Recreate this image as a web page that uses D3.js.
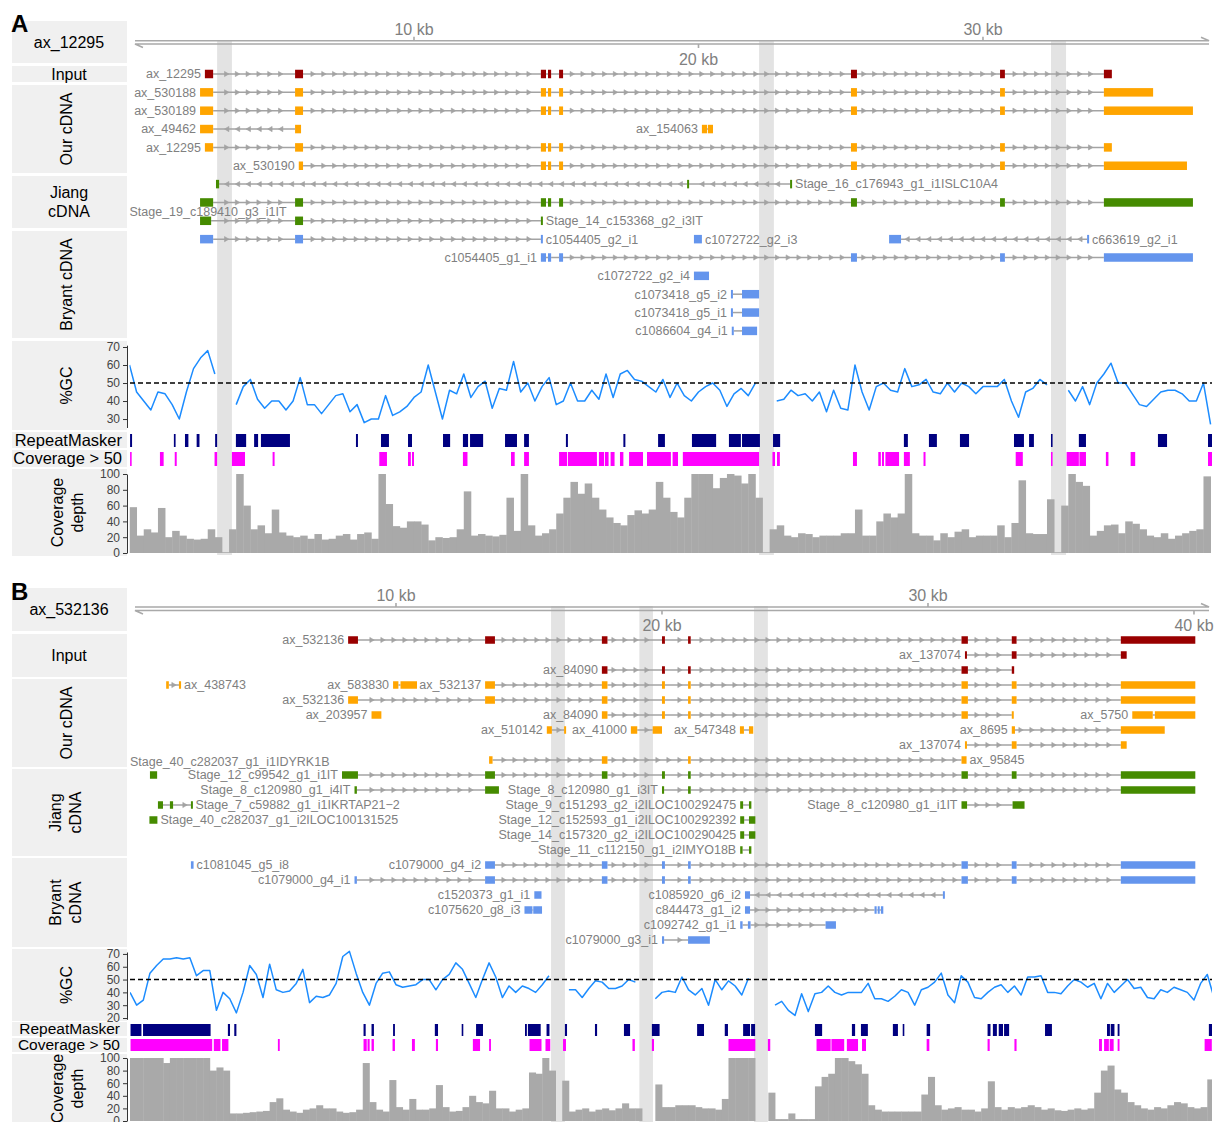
<!DOCTYPE html>
<html>
<head>
<meta charset="utf-8">
<script src="https://cdn.jsdelivr.net/npm/d3@7"></script>
<style>
  body { margin: 0; background: #fff; }
  svg { display: block; font-family: "Liberation Sans", Arial, Helvetica, sans-serif; }
</style>
</head>
<body>
<svg id="fig" width="1214" height="1122"></svg>
<script>
// ---------------- Panel A data (genome positions in kb) ----------------
var ticksA = [10, 20, 30];
var bandsA = [[3.08, 3.60], [22.13, 22.65], [32.39, 32.92]];

var txA = [
  {set: 'input', row: 0, name: 'ax_12295', str: 1, lab: 'left', ex: [[2.65,2.94],[5.82,6.10],[14.46,14.64],[14.71,14.82],[15.10,15.24],[25.36,25.57],[30.60,30.77],[34.25,34.53]]},
  {set: 'our', row: 1, name: 'ax_530188', str: 1, lab: 'left', ex: [[2.48,2.94],[5.82,6.10],[14.46,14.64],[14.71,14.82],[15.10,15.24],[25.36,25.57],[30.60,30.77],[34.25,35.98]]},
  {set: 'our', row: 2, name: 'ax_530189', str: 1, lab: 'left', ex: [[2.48,2.94],[5.82,6.10],[14.46,14.64],[14.71,14.82],[15.10,15.24],[25.36,25.57],[30.60,30.77],[34.25,37.38]]},
  {set: 'our', row: 3, name: 'ax_49462', str: -1, lab: 'left', ex: [[2.48,2.94],[5.82,6.03]]},
  {set: 'our', row: 3, name: 'ax_154063', str: 1, lab: 'left', ex: [[20.12,20.30],[20.33,20.51]]},
  {set: 'our', row: 4, name: 'ax_12295', str: 1, lab: 'left', ex: [[2.65,2.94],[5.82,6.10],[14.46,14.64],[14.71,14.82],[15.10,15.24],[25.36,25.57],[30.60,30.77],[34.25,34.53]]},
  {set: 'our', row: 5, name: 'ax_530190', str: 1, lab: 'left', ex: [[5.95,6.10],[14.46,14.64],[14.71,14.82],[15.10,15.24],[25.36,25.57],[30.60,30.77],[34.25,37.17]]},
  {set: 'jiang', row: 6, name: 'Stage_16_c176943_g1_i1ISLC10A4', str: -1, lab: 'right', ex: [[3.04,3.15],[19.60,19.67],[23.22,23.29]]},
  {set: 'jiang', row: 7, name: 'Stage_19_c189410_g3_i1IT', str: 1, lab: 'under', ex: [[2.48,2.94],[5.82,6.10],[14.46,14.64],[14.71,14.82],[15.10,15.24],[25.36,25.57],[30.60,30.77],[34.25,37.38]]},
  {set: 'jiang', row: 8, name: 'Stage_14_c153368_g2_i3IT', str: 1, lab: 'right', ex: [[2.48,2.87],[5.82,6.10],[14.46,14.53]]},
  {set: 'bryant', row: 9, name: 'c1054405_g2_i1', str: 1, lab: 'right', ex: [[2.48,2.94],[5.82,6.10],[14.46,14.53]]},
  {set: 'bryant', row: 9, name: 'c1072722_g2_i3', str: 1, lab: 'right', ex: [[19.84,20.12]]},
  {set: 'bryant', row: 9, name: 'c663619_g2_i1', str: -1, lab: 'right', ex: [[26.70,27.12],[33.66,33.73]]},
  {set: 'bryant', row: 10, name: 'c1054405_g1_i1', str: 1, lab: 'left', ex: [[14.46,14.64],[14.71,14.82],[15.10,15.24],[25.36,25.57],[30.60,30.77],[34.25,37.38]]},
  {set: 'bryant', row: 11, name: 'c1072722_g2_i4', str: 1, lab: 'left', ex: [[19.84,20.37]]},
  {set: 'bryant', row: 12, name: 'c1073418_g5_i2', str: 1, lab: 'left', ex: [[21.14,21.21],[21.53,22.13]]},
  {set: 'bryant', row: 13, name: 'c1073418_g5_i1', str: 1, lab: 'left', ex: [[21.14,21.21],[21.53,22.13]]},
  {set: 'bryant', row: 14, name: 'c1086604_g4_i1', str: -1, lab: 'left', ex: [[21.17,21.24],[21.53,22.06]]}
];

// %GC in 250 bp windows starting at 0 kb (null = assembly gap)
var gcA = [
  60, 45, 40, 35, 45, 44, 38, 30, 45, 58,
  64, 68, 55, null, null, 38, 48, 52, 41, 36,
  40, 40, 35, 40, 53, 38, 38, 33, 38, 43,
  44, 34, 38, 28, 30, 30, 43, 32, 34, 37,
  42, 45, 60, 45, 30, 46, 44, 55, 42, 48,
  51, 36, 47, 46, 62, 45, 50, 40, 48, 53,
  38, 40, 50, 40, 40, 46, 41, 55, 42, 55,
  57, 52, 51, 48, 45, 52, 42, 50, 43, 40,
  45, 48, 50, 46, 37, 44, 47, 43, 50, null,
  null, 40, 41, 46, 43, 44, 40, 45, 34, 46,
  36, 35, 60, 45, 35, 48, 50, 46, 45, 58,
  48, 49, 52, 45, 44, 50, 45, 50, 48, 44,
  48, 48, 48, 52, 40, 31, 45, 47, 52, 49,
  null, null, 46, 40, 48, 38, 50, 55, 61, 50,
  50, 44, 38, 37, 41, 45, 46, 46, 44, 40,
  40, 50, 27
];

// coverage depth in 250 bp bins starting at 0 kb
var covA = [
  58, 22, 30, 26, 57, 20, 28, 22, 18, 17,
  18, 30, 20, 1, 30, 100, 60, 30, 35, 25,
  55, 26, 22, 20, 22, 18, 24, 17, 18, 22,
  24, 17, 24, 26, 18, 100, 62, 34, 32, 40,
  40, 36, 16, 20, 19, 20, 30, 78, 22, 24,
  22, 21, 23, 70, 28, 100, 35, 22, 25, 30,
  50, 70, 90, 75, 88, 70, 55, 45, 38, 35,
  48, 54, 50, 55, 90, 70, 52, 45, 70, 100,
  100, 100, 82, 95, 100, 98, 88, 100, 70, 1,
  30, 35, 22, 20, 25, 24, 20, 22, 22, 22,
  25, 25, 55, 22, 22, 40, 50, 45, 50, 100,
  25, 22, 22, 16, 25, 20, 27, 30, 20, 22,
  22, 22, 35, 20, 38, 92, 25, 24, 24, 68,
  1, 60, 100, 90, 85, 22, 28, 35, 36, 25,
  40, 37, 30, 22, 20, 25, 18, 22, 25, 28,
  30, 97
];

var repA = [[0.02,0.09],[1.56,1.62],[1.95,2.07],[2.36,2.46],[3.01,3.08],[3.74,4.10],[4.38,4.52],[4.62,5.64],
  [7.96,8.03],[8.84,9.12],[9.79,9.93],[11.02,11.27],[11.72,11.90],[11.97,12.43],[13.20,13.62],[13.87,14.04],
  [15.34,15.41],[17.36,17.43],[18.58,18.82],[19.77,20.62],[21.07,21.49],[21.53,22.16],[22.62,22.87],
  [27.22,27.36],[28.10,28.38],[29.19,29.51],[31.09,31.44],[31.62,31.79],[32.39,32.43],[33.37,33.62],
  [36.15,36.47],[37.91,38.05]];

var c50A = [[0.02,0.07],[1.07,1.20],[1.59,1.66],[2.99,3.08],[3.60,4.06],[5.03,5.10],[8.78,9.05],[9.79,9.89],
  [9.93,10.00],[11.72,11.88],[13.41,13.54],[13.87,14.04],[15.10,15.38],[15.41,16.43],[16.50,16.68],
  [16.71,16.84],[16.91,17.05],[17.24,17.36],[17.56,18.05],[18.19,19.03],[19.09,19.28],[19.45,22.13],
  [22.60,22.69],[22.76,22.86],[25.43,25.57],[26.32,26.41],[26.45,26.52],[26.57,27.05],[27.22,27.43],
  [27.91,27.98],[31.15,31.40],[32.39,32.43],[32.94,33.37],[33.39,33.62],[34.32,34.41],[35.19,35.35],
  [37.91,38.05]];

// ---------------- Panel B data ----------------
var ticksB = [10, 20, 30, 40];
var bandsB = [[15.83, 16.35], [19.15, 19.66], [23.46, 23.98]];

var txB = [
  {set: 'input', row: 0, name: 'ax_532136', str: 1, lab: 'left', ex: [[8.20,8.57],[13.35,13.72],[17.74,17.95],[20.00,20.11],[20.98,21.08],[31.26,31.50],[33.15,33.33],[37.25,40.05]]},
  {set: 'input', row: 1, name: 'ax_137074', str: 1, lab: 'left', ex: [[31.39,31.46],[33.15,33.33],[37.25,37.47]]},
  {set: 'input', row: 2, name: 'ax_84090', str: 1, lab: 'left', ex: [[17.74,17.95],[20.00,20.11],[20.98,21.08],[31.26,31.50],[33.15,33.24]]},
  {set: 'our', row: 3, name: 'ax_438743', str: 1, lab: 'right', ex: [[1.36,1.46],[1.84,1.92]]},
  {set: 'our', row: 3, name: 'ax_583830', str: 1, lab: 'left', ex: [[9.89,10.09],[10.17,10.79]]},
  {set: 'our', row: 3, name: 'ax_532137', str: 1, lab: 'left', ex: [[13.35,13.72],[17.74,17.95],[20.00,20.11],[20.98,21.08],[31.26,31.50],[33.15,33.33],[37.25,40.05]]},
  {set: 'our', row: 4, name: 'ax_532136', str: 1, lab: 'left', ex: [[8.20,8.57],[13.35,13.72],[17.74,17.95],[20.00,20.11],[20.98,21.08],[31.26,31.50],[33.15,33.33],[37.25,40.05]]},
  {set: 'our', row: 5, name: 'ax_203957', str: 1, lab: 'left', ex: [[9.08,9.45]]},
  {set: 'our', row: 5, name: 'ax_84090', str: 1, lab: 'left', ex: [[17.74,17.95],[20.00,20.11],[20.98,21.08],[31.26,31.50],[33.15,33.22]]},
  {set: 'our', row: 5, name: 'ax_5750', str: 1, lab: 'left', ex: [[37.68,38.45],[38.53,40.05]]},
  {set: 'our', row: 6, name: 'ax_510142', str: 1, lab: 'left', ex: [[15.67,15.86],[16.32,16.39]]},
  {set: 'our', row: 6, name: 'ax_41000', str: 1, lab: 'left', ex: [[18.83,19.07],[19.65,20.00]]},
  {set: 'our', row: 6, name: 'ax_547348', str: 1, lab: 'left', ex: [[22.93,23.08],[23.27,23.43]]},
  {set: 'our', row: 6, name: 'ax_8695', str: 1, lab: 'left', ex: [[33.15,33.27],[37.25,38.90]]},
  {set: 'our', row: 7, name: 'ax_137074', str: 1, lab: 'left', ex: [[31.39,31.46],[33.15,33.33],[37.25,37.47]]},
  {set: 'our', row: 8, name: 'ax_95845', str: 1, lab: 'right', ex: [[13.50,13.63],[17.74,17.95],[20.98,21.08],[31.26,31.45]]},
  {set: 'jiang', row: 9, name: 'Stage_40_c282037_g1_i1IDYRK1B', str: 1, lab: 'over', ex: [[0.75,1.02]]},
  {set: 'jiang', row: 9, name: 'Stage_12_c99542_g1_i1IT', str: 1, lab: 'left', ex: [[7.97,8.57],[13.35,13.72],[17.74,17.95],[20.00,20.11],[20.98,21.08],[31.26,31.50],[33.15,33.33],[37.25,40.05]]},
  {set: 'jiang', row: 10, name: 'Stage_8_c120980_g1_i4IT', str: 1, lab: 'left', ex: [[8.44,8.53],[13.35,13.87]]},
  {set: 'jiang', row: 10, name: 'Stage_8_c120980_g1_i3IT', str: 1, lab: 'left', ex: [[20.00,20.08],[20.98,21.08],[37.25,40.05]]},
  {set: 'jiang', row: 11, name: 'Stage_7_c59882_g1_i1IKRTAP21\u22122', str: 1, lab: 'right', ex: [[1.05,1.24],[1.50,1.62],[2.29,2.35]]},
  {set: 'jiang', row: 11, name: 'Stage_9_c151293_g2_i2ILOC100292475', str: 1, lab: 'left', ex: [[22.94,23.05],[23.27,23.36]]},
  {set: 'jiang', row: 11, name: 'Stage_8_c120980_g1_i1IT', str: 1, lab: 'left', ex: [[31.26,31.47],[33.18,33.63]]},
  {set: 'jiang', row: 12, name: 'Stage_40_c282037_g1_i2ILOC100131525', str: 1, lab: 'right', ex: [[0.73,1.03]]},
  {set: 'jiang', row: 12, name: 'Stage_12_c152593_g1_i2ILOC100292392', str: 1, lab: 'left', ex: [[22.94,23.09],[23.27,23.51]]},
  {set: 'jiang', row: 13, name: 'Stage_14_c157320_g2_i2ILOC100290425', str: 1, lab: 'left', ex: [[22.94,23.09],[23.27,23.51]]},
  {set: 'jiang', row: 14, name: 'Stage_11_c112150_g1_i2IMYO18B', str: 1, lab: 'left', ex: [[22.94,23.03],[23.27,23.36]]},
  {set: 'bryant', row: 15, name: 'c1081045_g5_i8', str: 1, lab: 'right', ex: [[2.29,2.39]]},
  {set: 'bryant', row: 15, name: 'c1079000_g4_i2', str: 1, lab: 'left', ex: [[13.35,13.72],[17.74,17.95],[20.00,20.11],[20.98,21.08],[31.26,31.50],[33.15,33.33],[37.25,40.05]]},
  {set: 'bryant', row: 16, name: 'c1079000_g4_i1', str: 1, lab: 'left', ex: [[8.44,8.53],[13.35,13.72],[17.74,17.95],[20.00,20.11],[20.98,21.08],[31.26,31.50],[33.15,33.33],[37.25,40.05]]},
  {set: 'bryant', row: 17, name: 'c1520373_g1_i1', str: 1, lab: 'left', ex: [[15.20,15.47]]},
  {set: 'bryant', row: 17, name: 'c1085920_g6_i2', str: -1, lab: 'left', ex: [[23.12,23.31],[30.56,30.63]]},
  {set: 'bryant', row: 18, name: 'c1075620_g8_i3', str: 1, lab: 'left', ex: [[14.83,15.13],[15.16,15.49]]},
  {set: 'bryant', row: 18, name: 'c844473_g1_i2', str: 1, lab: 'left', ex: [[23.12,23.31],[27.99,28.07],[28.11,28.17],[28.23,28.32]]},
  {set: 'bryant', row: 19, name: 'c1092742_g1_i1', str: 1, lab: 'left', ex: [[22.94,23.03],[23.23,23.33],[26.15,26.54]]},
  {set: 'bryant', row: 20, name: 'c1079000_g3_i1', str: 1, lab: 'left', ex: [[20.00,20.08],[20.98,21.80]]}
];

var gcB = [
  40, 30, 34, 55, 61, 66, 66, 67, 66, 67,
  53, 57, 57, 26, 40, 35, 24, 40, 61, 54,
  36, 62, 42, 40, 41, 47, 58, 32, 37, 36,
  38, 47, 68, 72, 55, 40, 30, 47, 55, 56,
  46, 44, 45, 46, 50, 50, 42, 50, 54, 63,
  58, 47, 36, 50, 63, 52, 36, 45, 40, 45,
  43, 40, 46, 53, null, null, 42, 42, 36, 43,
  49, 48, 43, 43, 45, 50, 48, null, null, 35,
  40, 41, 40, 52, 42, 38, 43, 30, 50, 42,
  49, 45, 38, 51, null, null, null, 30, 33, 26,
  22, 39, 25, 39, 40, 45, 40, 38, 40, 40,
  40, 47, 35, 35, 33, 37, 42, 40, 30, 42,
  44, 48, 55, 38, 32, 53, 48, 36, 35, 40,
  44, 46, 40, 45, 38, 52, 52, 53, 40, 40,
  39, 45, 50, 48, 44, 47, 35, 47, 40, 45,
  50, 43, 44, 36, 35, 42, 40, 44, 42, 40,
  34, 47, 54, 36
];

var covB = [
  100, 100, 100, 100, 100, 92, 100, 100, 100, 100,
  100, 100, 80, 85, 80, 12, 12, 13, 14, 15,
  16, 30, 36, 18, 15, 13, 18, 20, 25, 20,
  20, 15, 13, 14, 18, 92, 30, 18, 15, 65,
  22, 18, 35, 18, 18, 20, 57, 22, 15, 16,
  22, 40, 30, 28, 48, 20, 20, 15, 18, 20,
  77, 75, 100, 80, 0, 64, 15, 18, 20, 15,
  18, 20, 17, 20, 28, 20, 20, 0, 0, 58,
  22, 22, 25, 25, 25, 22, 20, 20, 18, 35,
  100, 100, 100, 100, 0, 0, 45, 3, 3, 12,
  3, 3, 3, 55, 70, 75, 100, 100, 95, 90,
  75, 25, 18, 15, 15, 15, 15, 15, 15, 42,
  70, 25, 18, 20, 22, 18, 18, 15, 20, 63,
  22, 18, 22, 20, 22, 25, 22, 18, 20, 17,
  16, 18, 20, 18, 20, 45, 80, 88, 50, 45,
  30, 25, 20, 18, 22, 20, 25, 30, 28, 22,
  20, 22, 66
];

var repB = [[0.02,0.43],[0.49,3.03],[3.68,3.76],[3.92,4.00],[8.78,8.86],[9.08,9.17],[9.89,9.96],[11.46,11.58],
  [12.47,12.53],[13.01,13.27],[14.85,14.92],[14.96,15.44],[15.66,15.77],[16.35,16.43],[17.48,17.56],
  [18.57,18.80],[19.62,19.91],[21.32,21.58],[22.36,22.48],[23.05,23.31],[23.35,23.50],[25.75,26.02],
  [27.14,27.26],[27.48,27.74],[28.68,28.87],[29.05,29.10],[29.95,30.08],[32.24,32.35],[32.44,32.59],
  [32.66,32.82],[32.86,33.05],[34.40,34.66],[36.73,36.84],[36.87,37.01],[37.13,37.20],[40.56,40.74]];

var c50B = [[0.02,3.09],[3.15,3.40],[3.46,3.70],[5.56,5.63],[8.78,8.90],[8.93,9.01],[9.08,9.17],[9.87,9.96],
  [10.60,10.71],[11.50,11.58],[12.89,13.16],[13.50,13.57],[15.02,15.47],[15.62,15.80],[16.28,16.39],
  [18.89,18.98],[19.62,19.70],[22.50,23.51],[23.98,24.07],[25.81,26.34],[26.37,26.85],[26.95,27.37],
  [27.52,27.67],[29.95,30.05],[32.24,32.32],[33.25,33.33],[36.43,36.54],[36.62,36.80],[36.83,36.98],
  [37.13,37.20],[40.40,40.67]];

var winKb = 0.25; // window size of GC / coverage bins

// ---------------- drawing ----------------
var svg = d3.select('#fig');
var defs = svg.append('defs');
var setColor = {input: '#990000', our: '#ffa500', jiang: '#458b00', bryant: '#6495ed'};
var intronCol = '#a3a3a3';

function drawPanel(P) {
  var g = svg.append('g');
  var x = d3.scaleLinear().domain(P.xDomain).range(P.xRange);
  var left = P.xRange[0], right = 1212;

  defs.append('clipPath').attr('id', 'clip' + P.letter).append('rect')
    .attr('x', left).attr('y', P.bandTop).attr('width', right - left).attr('height', P.bottom - P.bandTop);
  var clip = 'url(#clip' + P.letter + ')';

  // left title boxes
  g.selectAll('rect.box').data(P.boxes).enter().append('rect')
    .attr('class', 'box')
    .attr('x', 12).attr('y', function(d) { return d.y0; })
    .attr('width', 115).attr('height', function(d) { return d.y1 - d.y0; })
    .attr('fill', '#f0f0f0');

  P.boxes.forEach(function(b) {
    var cy = (b.y0 + b.y1) / 2;
    b.lines.forEach(function(s, i) {
      var t = g.append('text').text(s).attr('font-size', b.fs || 16).attr('fill', '#000').attr('dy', '0.35em');
      if (b.rot) {
        var cx = b.cx + (i - (b.lines.length - 1) / 2) * 20;
        t.attr('transform', 'translate(' + cx + ',' + cy + ') rotate(-90)').attr('text-anchor', 'middle');
      } else if (b.right) {
        t.attr('x', b.right).attr('y', cy).attr('text-anchor', 'end');
      } else {
        t.attr('x', 69).attr('y', cy + (i - (b.lines.length - 1) / 2) * 19).attr('text-anchor', 'middle');
      }
    });
  });

  // panel letter
  g.append('text').text(P.letter).attr('x', 11).attr('y', P.letterY)
    .attr('font-size', 24).attr('font-weight', 'bold').attr('fill', '#000');

  // grey gap bands
  g.selectAll('rect.band').data(P.bands).enter().append('rect')
    .attr('x', function(d) { return x(d[0]); })
    .attr('width', function(d) { return x(d[1]) - x(d[0]); })
    .attr('y', P.bandTop).attr('height', P.bottom - P.bandTop)
    .attr('fill', '#e3e3e3');

  // genome axis (two strands, half arrow heads)
  var ay = P.axisY, ay2 = P.axisY + P.axisGap;
  var ga = g.append('g').attr('stroke', '#a9a9a9').attr('stroke-width', 1.6).attr('fill', 'none');
  ga.append('path').attr('d', 'M135,' + ay + 'H1209l-8,-3.5');
  ga.append('path').attr('d', 'M1209,' + ay2 + 'H135l8,3.5');
  P.ticks.forEach(function(v, i) {
    var tx = x(v), up = i % 2 === 0;
    ga.append('line').attr('x1', tx).attr('x2', tx)
      .attr('y1', up ? ay : ay2).attr('y2', up ? ay - 4 : ay2 + 4);
    g.append('text').text(v + ' kb').attr('x', tx).attr('y', up ? ay - 6 : ay2 + 20.5)
      .attr('text-anchor', 'middle').attr('font-size', 16).attr('fill', '#808080');
  });

  // transcripts
  var rowY = function(r) { return P.row0 + r * P.rowH; };
  P.tx.forEach(function(t) {
    var y = rowY(t.row), col = setColor[t.set];
    var tg = g.append('g');
    for (var k = 0; k < t.ex.length - 1; k++) {
      var xa = x(t.ex[k][1]), xb = x(t.ex[k + 1][0]);
      tg.append('line').attr('x1', xa).attr('x2', xb).attr('y1', y).attr('y2', y)
        .attr('stroke', intronCol).attr('stroke-width', 1.5);
      var first = left + Math.ceil((xa + 5 - left) / P.arrowStep) * P.arrowStep;
      for (var px = first; px < xb - 4; px += P.arrowStep) {
        tg.append('path')
          .attr('d', t.str > 0 ? 'M-2.2,-2.6L2.2,0L-2.2,2.6Z' : 'M2.2,-2.6L-2.2,0L2.2,2.6Z')
          .attr('transform', 'translate(' + px + ',' + y + ')')
          .attr('fill', intronCol).attr('stroke', intronCol).attr('stroke-width', 0.6);
      }
    }
    tg.selectAll('rect').data(t.ex).enter().append('rect')
      .attr('x', function(d) { return x(d[0]); })
      .attr('width', function(d) { return Math.max(2, x(d[1]) - x(d[0])); })
      .attr('y', y - P.exH / 2).attr('height', P.exH)
      .attr('fill', col);

    var lx, ly = y, anchor = 'end';
    if (t.lab === 'left') { lx = x(t.ex[0][0]) - 4; }
    else if (t.lab === 'right') { lx = x(t.ex[t.ex.length - 1][1]) + 3; anchor = 'start'; }
    else { lx = left; anchor = 'start'; ly = y + (t.lab === 'under' ? 9.5 : -13); }
    tg.append('text').text(t.name).attr('x', lx).attr('y', ly).attr('dy', '0.35em')
      .attr('text-anchor', anchor).attr('font-size', 12.5).attr('fill', '#808080');
  });

  // %GC track
  var yG = d3.scaleLinear().domain(P.gcDomain).range(P.gcRange);
  var gcPts = P.gc.map(function(v, i) { return [i * winKb, v]; });
  var gcLine = d3.line()
    .defined(function(d) { return d[1] != null; })
    .x(function(d) { return x(d[0]); })
    .y(function(d) { return yG(d[1]); });
  g.append('path').datum(gcPts).attr('d', gcLine)
    .attr('fill', 'none').attr('stroke', '#1c8cff').attr('stroke-width', 1.5)
    .attr('stroke-linejoin', 'round').attr('clip-path', clip);
  g.append('line').attr('x1', 130).attr('x2', right).attr('y1', yG(50)).attr('y2', yG(50))
    .attr('stroke', '#000').attr('stroke-width', 1.4).attr('stroke-dasharray', '5,3');
  var axG = g.append('g').attr('transform', 'translate(127,0)')
    .call(d3.axisLeft(yG).tickValues(P.gcTicks).tickSize(4).tickSizeOuter(0));

  // RepeatMasker and coverage > 50 blocks
  g.append('g').selectAll('rect').data(P.rep).enter().append('rect')
    .attr('x', function(d) { return x(d[0]); })
    .attr('width', function(d) { return Math.max(1.6, x(d[1]) - x(d[0])); })
    .attr('y', P.repY[0]).attr('height', P.repY[1] - P.repY[0])
    .attr('fill', '#000080').attr('clip-path', clip);
  g.append('g').selectAll('rect').data(P.c50).enter().append('rect')
    .attr('x', function(d) { return x(d[0]); })
    .attr('width', function(d) { return Math.max(1.6, x(d[1]) - x(d[0])); })
    .attr('y', P.c50Y[0]).attr('height', P.c50Y[1] - P.c50Y[0])
    .attr('fill', '#ff00ff').attr('clip-path', clip);

  // coverage depth histogram
  var yC = d3.scaleLinear().domain([0, 100]).range(P.covRange);
  g.append('g').attr('clip-path', clip).selectAll('rect').data(P.cov).enter().append('rect')
    .attr('x', function(d, i) { return x(i * winKb); })
    .attr('width', function(d, i) { return x((i + 1) * winKb) - x(i * winKb) + 0.4; })
    .attr('y', function(d) { return yC(d); })
    .attr('height', function(d) { return yC(0) - yC(d); })
    .attr('fill', '#a9a9a9');
  var axC = g.append('g').attr('transform', 'translate(127,0)')
    .call(d3.axisLeft(yC).tickValues([0, 20, 40, 60, 80, 100]).tickSize(4).tickSizeOuter(0));

  [axG, axC].forEach(function(a) {
    a.attr('font-family', null).attr('font-size', null);
    a.selectAll('path, line').attr('stroke', '#333');
    a.selectAll('text').attr('font-size', 12).attr('fill', '#444');
  });
}

drawPanel({
  letter: 'A', letterY: 32,
  xDomain: [0, 38.05], xRange: [129.5, 1212],
  axisY: 40.7, axisGap: 3.3, ticks: ticksA,
  bandTop: 40, bottom: 555, bands: bandsA,
  row0: 74, rowH: 18.35, exH: 8.5, arrowStep: 10.8, tx: txA,
  boxes: [
    {y0: 21, y1: 63, lines: ['ax_12295']},
    {y0: 66, y1: 82, lines: ['Input']},
    {y0: 85, y1: 173, lines: ['Our cDNA'], rot: true, cx: 66},
    {y0: 176, y1: 228, lines: ['Jiang', 'cDNA']},
    {y0: 231, y1: 338, lines: ['Bryant cDNA'], rot: true, cx: 66},
    {y0: 341, y1: 430, lines: ['%GC'], rot: true, cx: 66},
    {y0: 432, y1: 448, lines: ['RepeatMasker'], right: 122, fs: 16.5},
    {y0: 450, y1: 467, lines: ['Coverage > 50'], right: 122, fs: 16.5},
    {y0: 469, y1: 556, lines: ['Coverage', 'depth'], rot: true, cx: 67}
  ],
  gc: gcA, gcDomain: [25.3, 71], gcRange: [427.5, 345.2], gcTicks: [30, 40, 50, 60, 70],
  rep: repA, repY: [434, 447], c50: c50A, c50Y: [452, 466],
  cov: covA, covRange: [553, 474]
});

drawPanel({
  letter: 'B', letterY: 600,
  xDomain: [0, 40.7], xRange: [130, 1212.6],
  axisY: 607, axisGap: 3.5, ticks: ticksB,
  bandTop: 606, bottom: 1122, bands: bandsB,
  row0: 640, rowH: 15, exH: 7.5, arrowStep: 11, tx: txB,
  boxes: [
    {y0: 588, y1: 631, lines: ['ax_532136']},
    {y0: 634, y1: 677, lines: ['Input']},
    {y0: 679, y1: 767, lines: ['Our cDNA'], rot: true, cx: 66},
    {y0: 769, y1: 856, lines: ['Jiang', 'cDNA'], rot: true, cx: 65},
    {y0: 858, y1: 947, lines: ['Bryant', 'cDNA'], rot: true, cx: 65},
    {y0: 949, y1: 1021, lines: ['%GC'], rot: true, cx: 66},
    {y0: 1022, y1: 1036, lines: ['RepeatMasker'], right: 120, fs: 15.5},
    {y0: 1038, y1: 1052, lines: ['Coverage > 50'], right: 120, fs: 15.5},
    {y0: 1054, y1: 1123, lines: ['Coverage', 'depth'], rot: true, cx: 67}
  ],
  gc: gcB, gcDomain: [19, 71.5], gcRange: [1019.3, 952], gcTicks: [20, 30, 40, 50, 60, 70],
  rep: repB, repY: [1024, 1036], c50: c50B, c50Y: [1039, 1051],
  cov: covB, covRange: [1121, 1058]
});
</script>
</body>
</html>
